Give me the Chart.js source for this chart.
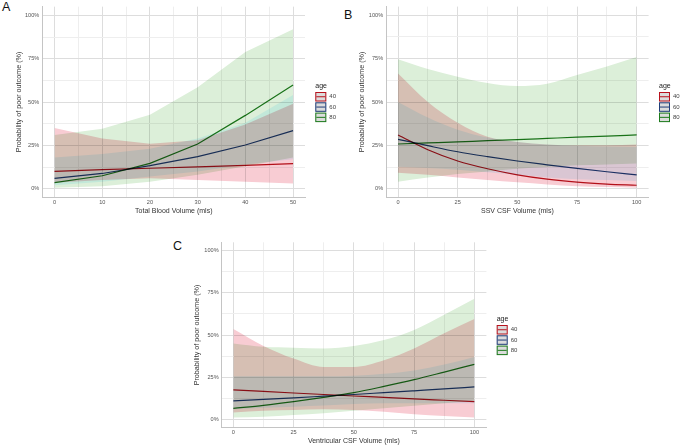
<!DOCTYPE html>
<html lang="en">
<head>
  <meta charset="UTF-8" />
  <title>Probability of poor outcome by age</title>
  <script src="https://cdn.jsdelivr.net/npm/chart.js"></script>
  <style>
    body {
      margin: 0;
      width: 681px;
      height: 446px;
      position: relative;
      overflow: hidden;
      background: #fff;
      font-family: 'Liberation Sans', Arial, sans-serif;
    }
    .panel { position: absolute; }
    .tag {
      position: absolute;
      font-size: 12.5px;
      line-height: 12.5px;
      color: #111;
    }
  </style>
</head>
<body>

  <div class="tag" style="left:2px; top:1px;">A</div>
  <div class="tag" style="left:344px; top:8.5px;">B</div>
  <div class="tag" style="left:173px; top:239.5px;">C</div>

  <div class="panel" style="left:0; top:0; width:340px; height:220px;"><canvas id="chartA"></canvas></div>
  <div class="panel" style="left:340px; top:0; width:341px; height:220px;"><canvas id="chartB"></canvas></div>
  <div class="panel" style="left:170px; top:225px; width:360px; height:221px;"><canvas id="chartC"></canvas></div>

  <script>
    const ages = ['40', '60', '80'];
    const yTicks = [0, 12.5, 25, 37.5, 50, 62.5, 75, 87.5, 100];

    // A: total blood volume
    const bloodX = [0, 10, 20, 30, 40, 50];
    const bloodFit40 = [10, 11, 11.8, 12.6, 13.5, 14.5];
    const bloodLow40 = [3.5, 5, 6, 5, 4, 3];
    const bloodHigh40 = [35, 29, 26, 28, 37, 49];
    const bloodFit60 = [6, 8.8, 13.3, 18.5, 25.2, 33.5];
    const bloodLow60 = [2, 4, 7, 10, 14, 17];
    const bloodHigh60 = [18, 20, 23, 29, 38, 54];
    const bloodFit80 = [3.5, 7.5, 14.6, 25.8, 42.3, 59.8];
    const bloodLow80 = [0.5, 1.5, 4, 8, 13, 18];
    const bloodHigh80 = [31, 34.6, 42.7, 58.5, 78.8, 92];

    // B: SSV CSF volume
    const ssvX = [0, 12.5, 25, 37.5, 50, 62.5, 75, 87.5, 100];
    const ssvFit40 = [31, 22.5, 16, 11.5, 8, 5.5, 3.8, 2.7, 2];
    const ssvLow40 = [9.2, 8, 6.5, 5, 3.7, 2.5, 1.5, 1, 0.6];
    const ssvHigh40 = [66.5, 50, 38, 30, 27, 25.5, 25, 25, 25.5];
    const ssvFit60 = [28.5, 24.8, 21.3, 18.5, 16, 13.8, 11.7, 9.8, 8];
    const ssvLow60 = [12.7, 12, 11, 9.5, 8, 6.5, 5.5, 5, 4.5];
    const ssvHigh60 = [50, 41, 34, 29.5, 27, 25.5, 24.8, 24.3, 24];
    const ssvFit80 = [25.8, 26.4, 27, 27.7, 28.3, 29, 29.7, 30.3, 31];
    const ssvLow80 = [4, 6.5, 8.5, 10, 11.5, 12.5, 13.5, 14, 14.5];
    const ssvHigh80 = [74.6, 69, 64.6, 61, 59.2, 60.5, 65.6, 70.5, 76];

    // C: ventricular CSF volume
    const ventX = [0, 12.5, 25, 37.5, 50, 62.5, 75, 87.5, 100];
    const ventFit40 = [17.4, 16.5, 15.6, 14.7, 13.8, 13, 12.1, 11.3, 10.5];
    const ventLow40 = [4, 5, 5.5, 6, 5.5, 4.5, 3, 2, 1];
    const ventHigh40 = [53.6, 43.5, 36, 31, 31, 35, 42, 51, 59.5];
    const ventFit60 = [10.9, 11.8, 12.7, 13.7, 14.7, 15.8, 16.9, 18, 19.2];
    const ventLow60 = [6, 6.8, 7.5, 8.2, 9, 9.5, 9.5, 9.5, 9.5];
    const ventHigh60 = [25.5, 25.5, 25.5, 25.5, 25.8, 27, 29, 32.5, 37];
    const ventFit80 = [6.5, 8.3, 10.5, 13, 15.8, 19.5, 23.5, 28, 32.6];
    const ventLow80 = [1, 1.5, 2.5, 3.5, 5, 6.5, 8, 9.5, 11];
    const ventHigh80 = [45, 43, 42.5, 42, 43.5, 47, 53, 62, 71.5];

    const lineColors = ['#b8121d', '#1f3d78', '#1c7a1c'];
    const bandColors = ['#f8ccd3', '#e1f8ff', '#dcefd9'];
    const FONT = "'Liberation Sans', Arial, sans-serif";

    // ribbons are blended like overlapping transparent fills
    const multiplyBands = {
      id: 'multiplyBands',
      beforeDatasetsDraw(chart) {
        chart.ctx.save();
        chart.ctx.globalCompositeOperation = 'multiply';
      },
      afterDatasetsDraw(chart) {
        chart.ctx.restore();
      }
    };

    const ageLegend = {
      id: 'ageLegend',
      afterDraw(chart, args, opts) {
        const ctx = chart.ctx;
        ctx.save();
        ctx.textBaseline = 'middle';
        ctx.fillStyle = '#222';
        ctx.font = '7px ' + FONT;
        ctx.fillText('age', opts.x, opts.y);
        ages.forEach((age, i) => {
          const top = opts.y + 6 + i * 10.3;
          ctx.fillStyle = '#dcdcdc';
          ctx.fillRect(opts.x, top, 11, 9.5);
          ctx.strokeStyle = lineColors[i];
          ctx.lineWidth = 1;
          ctx.strokeRect(opts.x + 0.5, top + 0.5, 10, 8.5);
          ctx.beginPath();
          ctx.moveTo(opts.x + 1, top + 4.75);
          ctx.lineTo(opts.x + 10, top + 4.75);
          ctx.stroke();
          ctx.fillStyle = '#444';
          ctx.font = '6px ' + FONT;
          ctx.fillText(age, opts.x + 14, top + 4.75);
        });
        ctx.restore();
      }
    };

    function points(xs, ys) {
      return xs.map((x, i) => ({ x: x, y: ys[i] }));
    }

    function makePanel(id, p) {
      const datasets = [];
      ages.forEach((age, i) => {
        datasets.push({
          label: age + ' lower',
          data: points(p.x, p.low[i]),
          borderWidth: 0,
          pointRadius: 0,
          fill: false,
          tension: p.tension,
          cubicInterpolationMode: p.mode
        });
        datasets.push({
          label: age + ' upper',
          data: points(p.x, p.high[i]),
          borderWidth: 0,
          pointRadius: 0,
          backgroundColor: bandColors[i],
          fill: '-1',
          tension: p.tension,
          cubicInterpolationMode: p.mode
        });
      });
      ages.forEach((age, i) => {
        datasets.push({
          label: age,
          data: points(p.x, p.fit[i]),
          borderColor: lineColors[i],
          borderWidth: 1.2,
          pointRadius: 0,
          fill: false,
          tension: p.tension,
          cubicInterpolationMode: p.mode
        });
      });

      const g = p.geo;
      const gridColor = major => c => (c.tick && c.tick.value % major === 0) ? '#dddddd' : '#eeeeee';

      new Chart(document.getElementById(id), {
        type: 'line',
        data: { datasets },
        options: {
          responsive: true,
          maintainAspectRatio: false,
          animation: false,
          layout: { padding: { left: 0, top: g.top, right: g.right, bottom: 0 } },
          plugins: {
            legend: { display: false },
            tooltip: { enabled: false },
            ageLegend: g.legend
          },
          scales: {
            x: {
              type: 'linear',
              min: p.xMin,
              max: p.xMax,
              afterBuildTicks: axis => { axis.ticks = p.xTicks.map(v => ({ value: v })); },
              afterFit: axis => { axis.height = g.xHeight; },
              grid: { color: gridColor(p.xMajor), lineWidth: 1, drawTicks: false },
              border: { display: true, color: '#c4c4c4', width: 1 },
              ticks: {
                autoSkip: false,
                maxRotation: 0,
                padding: 1.6,
                color: '#555',
                font: { size: 5.6, family: FONT },
                callback: v => v % p.xMajor === 0 ? v : ''
              },
              title: {
                display: true,
                text: p.xTitle,
                color: '#333',
                font: { size: 7, family: FONT },
                padding: { top: 0, bottom: g.xTitlePad }
              }
            },
            y: {
              type: 'linear',
              min: -5,
              max: 105,
              afterBuildTicks: axis => { axis.ticks = yTicks.map(v => ({ value: v })); },
              afterFit: axis => { axis.width = g.yWidth; },
              grid: { color: gridColor(25), lineWidth: 1, drawTicks: false },
              border: { display: true, color: '#c4c4c4', width: 1 },
              ticks: {
                autoSkip: false,
                padding: g.yTickPad,
                color: '#555',
                font: { size: 5.6, family: FONT },
                callback: v => v % 25 === 0 ? v + '%' : ''
              },
              title: {
                display: true,
                text: 'Probability of poor outcome (%)',
                color: '#333',
                font: { size: 7.2, family: FONT },
                padding: { top: g.yTitlePad, bottom: 0 }
              }
            }
          }
        },
        plugins: [multiplyBands, ageLegend]
      });
    }

    makePanel('chartA', {
      x: bloodX,
      fit: [bloodFit40, bloodFit60, bloodFit80],
      low: [bloodLow40, bloodLow60, bloodLow80],
      high: [bloodHigh40, bloodHigh60, bloodHigh80],
      tension: 0, mode: 'default',
      xMin: -2.5, xMax: 52.5, xMajor: 10,
      xTicks: [0, 5, 10, 15, 20, 25, 30, 35, 40, 45, 50],
      xTitle: 'Total Blood Volume (mls)',
      geo: { top: 6.6, right: 35, yWidth: 42.6, xHeight: 22.6, yTickPad: 3.3, yTitlePad: 15.2, xTitlePad: 4.9, legend: { x: 315.3, y: 86 } }
    });

    makePanel('chartB', {
      x: ssvX,
      fit: [ssvFit40, ssvFit60, ssvFit80],
      low: [ssvLow40, ssvLow60, ssvLow80],
      high: [ssvHigh40, ssvHigh60, ssvHigh80],
      tension: 0.4, mode: 'monotone',
      xMin: -5, xMax: 105, xMajor: 25,
      xTicks: [0, 12.5, 25, 37.5, 50, 62.5, 75, 87.5, 100],
      xTitle: 'SSV CSF Volume (mls)',
      geo: { top: 6.6, right: 32.4, yWidth: 46.1, xHeight: 22.6, yTickPad: 3, yTitlePad: 17.7, xTitlePad: 4.9, legend: { x: 319, y: 86 } }
    });

    makePanel('chartC', {
      x: ventX,
      fit: [ventFit40, ventFit60, ventFit80],
      low: [ventLow40, ventLow60, ventLow80],
      high: [ventHigh40, ventHigh60, ventHigh80],
      tension: 0.4, mode: 'monotone',
      xMin: -5, xMax: 105, xMajor: 25,
      xTicks: [0, 12.5, 25, 37.5, 50, 62.5, 75, 87.5, 100],
      xTitle: 'Ventricular CSF Volume (mls)',
      geo: { top: 17.3, right: 43.6, yWidth: 51.3, xHeight: 18.3, yTickPad: 2.7, yTitlePad: 23.2, xTitlePad: 0.6, legend: { x: 326.7, y: 94 } }
    });
  </script>

</body>
</html>
